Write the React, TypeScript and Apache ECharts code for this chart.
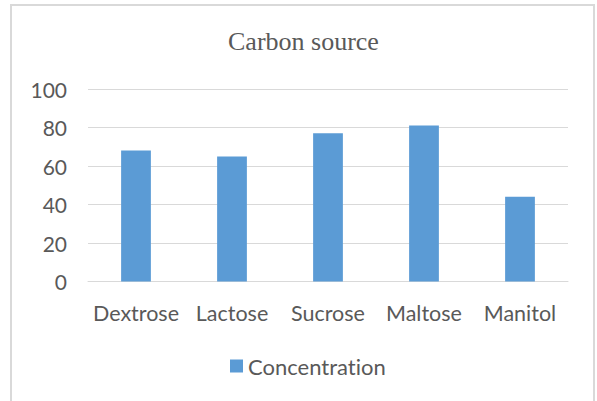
import React, { useEffect, useRef } from "react";
import * as echarts from "echarts";

const categories = ["Dextrose", "Lactose", "Sucrose", "Maltose", "Manitol"];
const concentration = [68, 65, 77, 81, 44];
const seriesName = "Concentration";
const titleText = "Carbon source";

const SANS = "Lato, 'Liberation Sans', sans-serif";
const TEXT = "#595959";

export default function App() {
  const ref = useRef<HTMLDivElement>(null);
  useEffect(() => {
    if (!ref.current) return;
    const chart = echarts.init(ref.current, null, { renderer: "svg" });
    chart.setOption({
      animation: false,
      backgroundColor: "#ffffff",
      title: {
        text: titleText,
        left: 223,
        top: 23,
        textStyle: {
          fontFamily: "'Liberation Serif', 'Times New Roman', serif",
          fontWeight: "normal",
          fontSize: 26,
          color: TEXT,
        },
      },
      graphic: [
        {
          type: "rect",
          shape: { x: 11, y: 5, width: 583, height: 420 },
          style: { fill: "none", stroke: "#d9d9d9", lineWidth: 2 },
          silent: true,
        },
      ],
      legend: {
        data: [seriesName],
        left: 225,
        top: 350,
        itemWidth: 13,
        itemHeight: 13,
        itemGap: 6,
        icon: "rect",
        textStyle: { fontFamily: SANS, fontSize: 22, color: TEXT },
      },
      grid: { left: 88, right: 29, top: 89, bottom: 119.5 },
      xAxis: {
        type: "category",
        data: categories,
        axisLine: { lineStyle: { color: "#d9d9d9", width: 1 } },
        axisTick: { show: false },
        axisLabel: { fontFamily: SANS, fontSize: 21.5, color: TEXT, margin: 20, interval: 0 },
      },
      yAxis: {
        type: "value",
        min: 0,
        max: 100,
        interval: 20,
        axisLine: { show: false },
        axisTick: { show: false },
        splitLine: { lineStyle: { color: "#d9d9d9", width: 1 } },
        axisLabel: { fontFamily: SANS, fontSize: 21, color: TEXT, margin: 21 },
      },
      series: [
        {
          name: seriesName,
          type: "bar",
          data: concentration,
          barWidth: "31%",
          itemStyle: { color: "#5b9bd5" },
        },
      ],
    });
    return () => chart.dispose();
  }, []);
  return (
    <>
      <style>{"#root text, #root tspan { font-variant-ligatures: none !important; font-feature-settings: 'liga' 0, 'clig' 0 !important; }"}</style>
      <div
        ref={ref}
        style={{ position: "fixed", left: 0, top: 0, width: 597, height: 401 }}
      />
    </>
  );
}
